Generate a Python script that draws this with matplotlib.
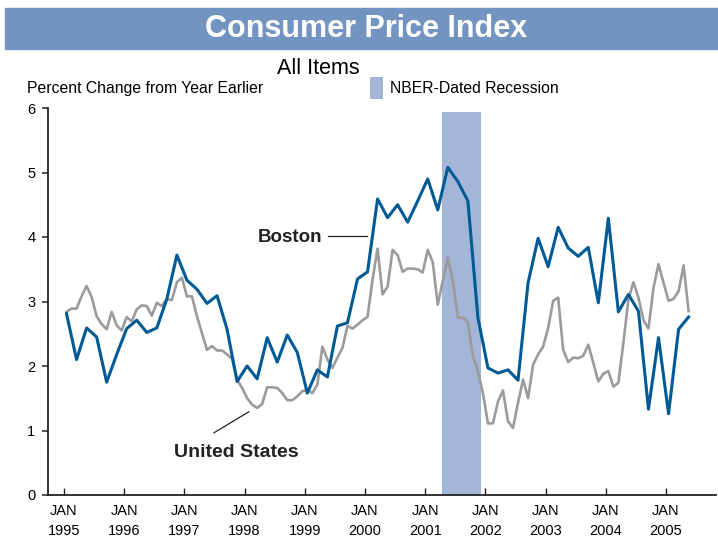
import numpy as np
import matplotlib
matplotlib.use('Agg')
import matplotlib.pyplot as plt
from matplotlib.patches import Rectangle

# Boston CPI, bimonthly (Jan, Mar, May, ...), Jan 1995 - May 2005
boston = [2.81, 2.10, 2.59, 2.45, 1.75, 2.18,
          2.58, 2.71, 2.52, 2.59, 3.04, 3.72,
          3.33, 3.19, 2.97, 3.09, 2.57, 1.76,
          2.00, 1.80, 2.44, 2.06, 2.48, 2.21,
          1.58, 1.94, 1.83, 2.62, 2.67, 3.35,
          3.46, 4.59, 4.30, 4.50, 4.23, 4.56,
          4.90, 4.42, 5.08, 4.86, 4.56, 2.75,
          1.97, 1.89, 1.94, 1.78, 3.29, 3.98,
          3.54, 4.15, 3.83, 3.70, 3.84, 2.98,
          4.29, 2.84, 3.11, 2.85, 1.33, 2.44,
          1.26, 2.57, 2.76]

# U.S. CPI, monthly, Jan 1995 - May 2005
us = [2.84, 2.89, 2.89, 3.08, 3.24, 3.07, 2.77, 2.65, 2.57, 2.84, 2.63, 2.55,
      2.76, 2.69, 2.88, 2.94, 2.93, 2.78, 2.98, 2.93, 3.04, 3.02, 3.30, 3.37,
      3.08, 3.08, 2.77, 2.51, 2.25, 2.31, 2.24, 2.24, 2.18, 2.11, 1.79, 1.66,
      1.50, 1.40, 1.35, 1.41, 1.67, 1.67, 1.66, 1.58, 1.47, 1.47, 1.53, 1.61,
      1.63, 1.58, 1.71, 2.30, 2.10, 1.97, 2.13, 2.28, 2.62, 2.58, 2.64, 2.71,
      2.76, 3.34, 3.82, 3.11, 3.23, 3.80, 3.72, 3.46, 3.51, 3.51, 3.50, 3.45,
      3.80, 3.61, 2.95, 3.32, 3.68, 3.32, 2.75, 2.75, 2.68, 2.15, 1.92, 1.58,
      1.11, 1.11, 1.45, 1.62, 1.14, 1.04, 1.43, 1.79, 1.50, 2.02, 2.18, 2.30,
      2.59, 3.01, 3.06, 2.25, 2.06, 2.13, 2.12, 2.16, 2.33, 2.05, 1.76, 1.88,
      1.92, 1.68, 1.74, 2.36, 3.03, 3.30, 3.06, 2.71, 2.58, 3.21, 3.58, 3.29,
      3.01, 3.04, 3.16, 3.56, 2.85]

years = list(range(1995, 2006))
year_labels = [f'JAN\n{y}' for y in years]
recession = (2001.28, 2001.93)

BLUE = '#005a96'
GRAY = '#9b9b9b'
SHADE = '#a4b6d7'
BAND = '#7394c0'

plt.rcParams['font.family'] = ['Liberation Sans', 'DejaVu Sans']

# mid-month positions in fractional years
x_us = 1995 + (np.arange(len(us)) + 0.5) / 12
x_bos = 1995 + (np.arange(len(boston)) * 2 + 0.5) / 12

fig = plt.figure(figsize=(7.18, 5.39), dpi=100)
ax = fig.add_axes([48 / 718, 44 / 539, 668 / 718, 387 / 539])

ax.axvspan(recession[0], recession[1], ymax=0.99, color=SHADE, lw=0,
           zorder=1, label='NBER-Dated Recession')
ax.plot(x_us, us, color=GRAY, lw=1.9, zorder=2)
ax.plot(x_bos, boston, color=BLUE, lw=2.2, zorder=3)

ax.set_xlim(1994.734, 2005.83)
ax.set_ylim(0, 6)

# series labels with leader lines
ax.text(1999.29, 4.0, 'Boston', ha='right', va='center',
        fontsize=13.5, fontweight='bold', color='#222222')
ax.plot([1999.39, 2000.03], [4.02, 4.02], color='#222222', lw=0.9)
ax.text(1997.86, 0.66, 'United States', ha='center', va='center',
        fontsize=14, fontweight='bold', color='#222222')
ax.plot([1997.49, 1998.07], [0.964, 1.29], color='#222222', lw=0.9)

for s in ['top', 'right']:
    ax.spines[s].set_visible(False)
for s in ['left', 'bottom']:
    ax.spines[s].set_linewidth(1.3)
    ax.spines[s].set_color('#222222')

ax.set_yticks(range(0, 7))
ax.tick_params(axis='y', direction='out', length=4, width=1.1,
               labelsize=10.5, pad=5, color='#222222')
ax.set_xticks(years)
ax.set_xticklabels(year_labels, linespacing=1.5)
ax.tick_params(axis='x', direction='in', length=5, width=1.0,
               labelsize=10.5, pad=6.5, color='#222222')

# title band
fig.patches.append(Rectangle((5 / 718, 1 - 49 / 539), 1 - 5 / 718, 41 / 539,
                             transform=fig.transFigure, color=BAND, zorder=0))
fig.text(366 / 718, 1 - 29 / 539, 'Consumer Price Index', ha='center',
         va='center', color='white', fontsize=22, fontweight='bold')
fig.text(318 / 718, 1 - 68 / 539, 'All Items', ha='center', va='center',
         fontsize=15.5)
fig.text(27 / 718, 1 - 88 / 539, 'Percent Change from Year Earlier',
         ha='left', va='center', fontsize=11.3)

fig.legend(loc='center left', bbox_to_anchor=(370 / 718, 1 - 88 / 539),
           frameon=False, fontsize=11.3, handlelength=0.8, handleheight=1.7,
           handletextpad=0.5, borderpad=0, borderaxespad=0)

fig.savefig('out.png', dpi=100)
